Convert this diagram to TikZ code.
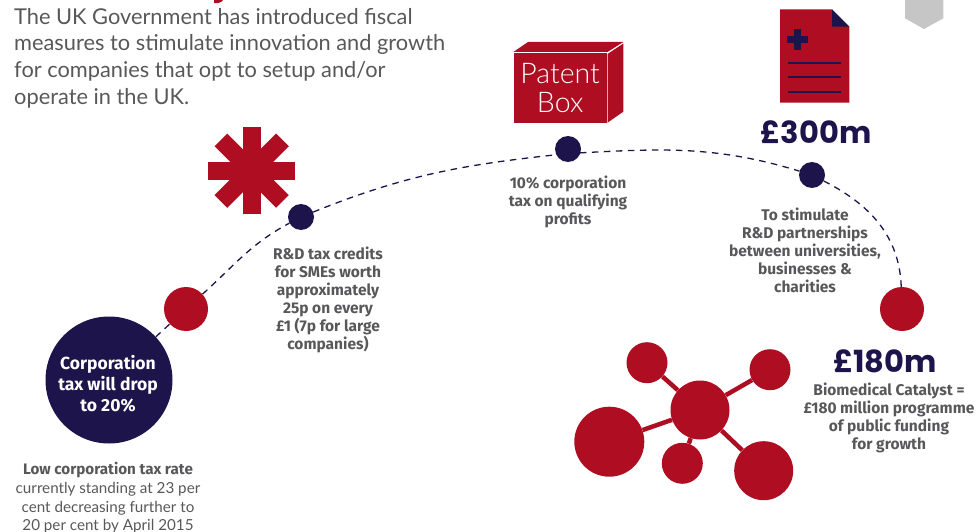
\documentclass[tikz,border=0pt]{standalone}
\usepackage{fontspec}
\usetikzlibrary{backgrounds}
\setmainfont{Fira Sans}
\newfontfamily\lightf{Lato Light}
\newfontfamily\regf{Lato}
\newfontfamily\headf{Poppins}
\definecolor{cred}{HTML}{AE0D22}
\definecolor{cnavy}{HTML}{1E144C}
\definecolor{cgrey}{HTML}{58585A}
\definecolor{chex}{HTML}{C6C6C6}
\tikzset{
  dot/.style={circle,fill=#1,draw=none,inner sep=0pt},
  small/.style={dot=cnavy,minimum size=26pt},
  mid/.style={dot=cred,minimum size=44pt},
  mol/.style={dot=cred},
  link/.style={draw=cred,line width=4.5pt},
  trail/.style={draw=cnavy,line width=1.3pt,dash pattern=on 6.5pt off 5.5pt},
  lab/.style={text=cgrey,align=center,inner sep=0pt,font=\fontsize{15.5}{18}\selectfont\bfseries},
  intro/.style={text=cgrey,align=left,inner sep=0pt,font=\fontsize{21.8}{26.6}\selectfont\regf},
  money/.style={text=cnavy,inner sep=0pt,font=\fontsize{30.5}{30}\selectfont\headf\bfseries},
  docline/.style={draw=cnavy,line width=2pt},
}
\begin{document}
\begin{tikzpicture}[x=1pt,y=-1pt]
\useasboundingbox (0,0) rectangle (980,532);
% cropped fragment and hexagon
\fill[cred] (214,0) -- (223,0) -- (221,2) .. controls (219,3.5) and (216,3.5) .. (214,3) -- cycle;
\fill[chex] (905,0) -- (943.3,0) -- (943.3,18.3) -- (924,29) -- (905,18.3) -- cycle;
% intro
\node[intro,anchor=north west] (introtext) at (14,8) {The UK Government has introduced fiscal\\measures to stimulate innovation and growth\\for companies that opt to setup and/or\\operate in the UK.};
% markers
\node[dot=cnavy,minimum size=127pt] (big) at (109,380) {};
\node[mid] (r1) at (186,309) {};
\node[small] (n1) at (301,217) {};
\node[small] (n2) at (568,149) {};
\node[small] (n3) at (812,175) {};
\node[mid] (r2) at (902,309) {};
\coordinate (p2) at (568,153.5);
\begin{scope}[on background layer]
\draw[trail] (big) -- (r1);
\draw[trail] (r1) to[out=42,in=208] (n1);
\draw[trail] (n1) to[out=22,in=186] (p2);
\draw[trail] (p2) to[out=3,in=163] (n3);
\draw[trail] (n3) to[out=-27,in=92] (r2);
\end{scope}
\node[text=white,align=center,inner sep=0pt,font=\fontsize{17.5}{21}\selectfont\bfseries] (bigtext) at (108,384) {Corporation\\tax will drop\\to 20\%};
% asterisk
\foreach \a in {0,45,90,135}
  \fill[cred,rotate around={\a:(251.7,170.7)}] (242.7,127.2) rectangle (260.7,214.2);
% patent box
\fill[cred] (513.3,52) -- (528,42) -- (623.3,42) -- (607.5,52) -- cycle;
\fill[cred] (607.5,54) -- (623.3,43.5) -- (623.3,111.7) -- (607.5,122.7) -- cycle;
\node[fill=cred,minimum width=93.4pt,minimum height=70pt,inner sep=0pt,anchor=north west,text=white,align=center,font=\fontsize{28.5}{29.5}\selectfont\lightf] (pbox) at (513.3,52.7) {Patent\\Box};
% document
\fill[cred] (780,9.3) -- (832,9.3) -- (849.3,26.7) -- (849.3,102.7) -- (780,102.7) -- cycle;
\fill[cnavy] (832,9.3) -- (849.3,26.7) -- (832,26.7) -- cycle;
\fill[cnavy] (794.4,29) rectangle (801,49.6);
\fill[cnavy] (787.4,36) rectangle (808,42.6);
\foreach \y in {62.7,77.3,91.7} \draw[docline] (788,\y) -- (841.3,\y);
% amounts
\node[money,anchor=base] (m300) at (816,143) {£300m};
\node[money,anchor=base] (m180) at (885,372.7) {£180m};
% labels
\node[lab] (l1) at (328,300) {R\&D tax credits\\for SMEs worth\\approximately\\25p on every\\£1 (7p for large\\companies)};
\node[lab] (l2) at (568,202) {10\% corporation\\tax on qualifying\\profits};
\node[lab] (l3) at (805,250) {To stimulate\\R\&D partnerships\\between universities,\\businesses \&\\charities};
\node[lab] (l4) at (889,418) {Biomedical Catalyst =\\£180 million programme\\of public funding\\for growth};
\node[text=cgrey,align=center,inner sep=0pt,font=\fontsize{15.2}{18.7}\selectfont\regf] (l5) at (108,498) {{\rmfamily\bfseries Low corporation tax rate}\\currently standing at 23 per\\cent decreasing further to\\20 per cent by April 2015};
% molecule
\node[mol,minimum size=59pt] (c) at (700,410) {};
\node[mol,minimum size=41pt] (a1) at (647,362.7) {};
\node[mol,minimum size=41pt] (a2) at (770,369.7) {};
\node[mol,minimum size=70pt] (a3) at (609.3,441.7) {};
\node[mol,minimum size=41pt] (a4) at (682.3,463.3) {};
\node[mol,minimum size=59pt] (a5) at (763.7,470.7) {};
\foreach \t in {a1,a2,a3,a4,a5} \draw[link] (c) -- (\t);
\end{tikzpicture}
\end{document}
